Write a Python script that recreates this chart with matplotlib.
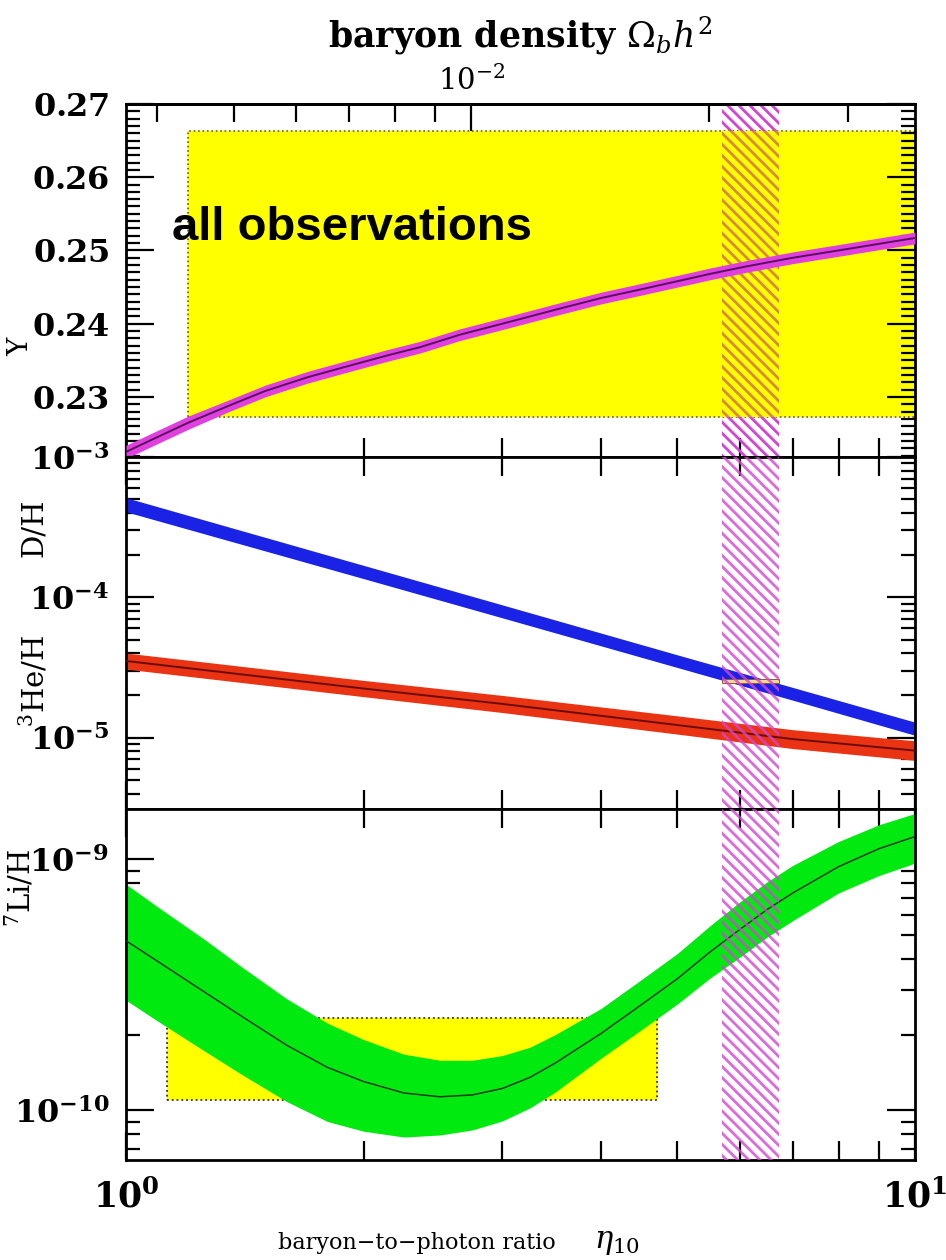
import matplotlib
matplotlib.use('Agg')
import matplotlib.pyplot as plt
from matplotlib.patches import Rectangle
from matplotlib.ticker import FixedLocator, FixedFormatter, NullFormatter, MultipleLocator

plt.rcParams['mathtext.fontset'] = 'dejavuserif'
plt.rcParams['hatch.linewidth'] = 2.0

# ---- data ----
# helium-4 mass fraction Y
eta_y = [1.0, 1.1, 1.2, 1.35, 1.5, 1.7, 1.94, 2.15, 2.36, 2.65, 3.0, 3.5, 4.0, 4.5,
         5.0, 5.5, 6.1, 7.0, 8.0, 9.0, 10.0]
yp_mid = [0.2225, 0.2246, 0.2265, 0.2288, 0.2308, 0.2327, 0.2344, 0.2357, 0.2368, 0.2385,
          0.2400, 0.2419, 0.2435, 0.2447, 0.2458, 0.2468, 0.2478, 0.2490, 0.2500, 0.2509,
          0.2517]
yp_err = [0.0009, 0.0009, 0.0009, 0.0008, 0.0008, 0.0008, 0.0008, 0.0008, 0.0008, 0.0008,
          0.0008, 0.0008, 0.0008, 0.0008, 0.0008, 0.0008, 0.0008, 0.0008, 0.0008, 0.0008,
          0.0008]

# D/H and 3He/H
eta_m = [1.0, 2.0, 3.0, 5.0, 7.0, 10.0]
dh_mid = [4.57e-4, 1.52e-4, 7.94e-5, 3.51e-5, 2.05e-5, 1.16e-5]
dh_hi = [5.13e-4, 1.69e-4, 8.83e-5, 3.89e-5, 2.28e-5, 1.29e-5]
dh_lo = [4.07e-4, 1.36e-4, 7.14e-5, 3.16e-5, 1.85e-5, 1.04e-5]
he3_mid = [3.52e-5, 2.24e-5, 1.74e-5, 1.23e-5, 9.77e-6, 8.09e-6]
he3_hi = [4.01e-5, 2.56e-5, 2.00e-5, 1.43e-5, 1.14e-5, 9.5e-6]
he3_lo = [3.08e-5, 1.96e-5, 1.51e-5, 1.06e-5, 8.36e-6, 6.89e-6]

# 7Li/H
eta_li = [1.0, 1.1, 1.25, 1.4, 1.6, 1.8, 2.0, 2.25, 2.5, 2.75, 3.0, 3.25, 3.5, 4.0,
          4.5, 5.0, 5.5, 6.0, 6.5, 7.0, 8.0, 9.0, 10.0]
li_mid = [4.73e-10, 3.89e-10, 2.99e-10, 2.37e-10, 1.81e-10, 1.48e-10, 1.30e-10, 1.17e-10,
          1.13e-10, 1.15e-10, 1.22e-10, 1.35e-10, 1.54e-10, 2.02e-10, 2.63e-10, 3.34e-10,
          4.27e-10, 5.25e-10, 6.31e-10, 7.33e-10, 9.33e-10, 1.10e-9, 1.23e-9]
li_hi = [7.94e-10, 6.41e-10, 4.85e-10, 3.73e-10, 2.77e-10, 2.22e-10, 1.91e-10, 1.67e-10,
         1.58e-10, 1.58e-10, 1.65e-10, 1.78e-10, 2.00e-10, 2.54e-10, 3.31e-10, 4.21e-10,
         5.43e-10, 6.76e-10, 8.13e-10, 9.44e-10, 1.175e-9, 1.37e-9, 1.52e-9]
li_lo = [2.74e-10, 2.25e-10, 1.74e-10, 1.39e-10, 1.08e-10, 9.01e-11, 8.24e-11, 7.81e-11,
         7.96e-11, 8.34e-11, 9.06e-11, 1.02e-10, 1.18e-10, 1.61e-10, 2.09e-10, 2.65e-10,
         3.36e-10, 4.07e-10, 4.90e-10, 5.69e-10, 7.33e-10, 8.60e-10, 9.64e-10]

# observational boxes
yp_box_eta = [1.198, 10.5]
yp_box_val = [0.2272, 0.2663]
li_box_eta = [1.127, 4.71]
li_box_val = [1.10e-10, 2.32e-10]
dh_obs_eta = [5.69, 6.73]
dh_obs_val = [2.47e-5, 2.61e-5]

# CMB eta band
cmb_eta = [5.69, 6.73]

# top axis (Omega_b h^2)
obh2_major = [0.01]
obh2_minor = [0.004, 0.005, 0.006, 0.007, 0.008, 0.009, 0.02, 0.03]
eta_per_obh2 = 274.0

MAG = '#d444d4'
MAG_A = (0.83, 0.27, 0.83, 0.8)
YEL = '#ffff00'
HATCH = '\\\\\\'

fig = plt.figure(figsize=(9.46, 12.6), dpi=100)
ax1 = fig.add_axes([0.1332, 0.6373, 0.834, 0.2802])
ax2 = fig.add_axes([0.1332, 0.3579, 0.834, 0.2794])
ax3 = fig.add_axes([0.1332, 0.0794, 0.834, 0.2786])

for ax in (ax1, ax2, ax3):
    ax.set_xscale('log')
    ax.set_xlim(1, 10)
    for s in ax.spines.values():
        s.set_linewidth(2.0)
    ax.tick_params(which='both', direction='in', top=True, right=True, width=1.6,
                   labelsize=23, pad=12)
    ax.tick_params(which='major', length=20)
    ax.tick_params(which='minor', length=10)
    ax.tick_params(axis='x', which='minor', length=14)
    ax.xaxis.set_major_locator(FixedLocator([1, 10]))
    ax.xaxis.set_minor_formatter(NullFormatter())
    ax.xaxis.set_major_formatter(NullFormatter())

# ---- top panel: Y ----
ax1.set_ylim(0.2218, 0.27)
ax1.yaxis.set_minor_locator(MultipleLocator(0.001))
ax1.set_yticks([0.23, 0.24, 0.25, 0.26, 0.27])
ax1.set_yticklabels([r'$\mathbf{0.23}$', r'$\mathbf{0.24}$', r'$\mathbf{0.25}$',
                     r'$\mathbf{0.26}$', r'$\mathbf{0.27}$'])
ax1.tick_params(axis='x', which='both', top=False)

ax1.add_patch(Rectangle((yp_box_eta[0], yp_box_val[0]), yp_box_eta[1] - yp_box_eta[0],
                        yp_box_val[1] - yp_box_val[0], facecolor=YEL, edgecolor='#6b5c00',
                        linestyle=':', linewidth=1.2, zorder=1))
# hatched band: magenta on white, orange where it overlays the yellow box
ax1.axvspan(cmb_eta[0], cmb_eta[1], facecolor='none', edgecolor=MAG, hatch=HATCH,
            lw=0, zorder=2)
ax1.add_patch(Rectangle((cmb_eta[0], yp_box_val[0]), cmb_eta[1] - cmb_eta[0],
                        yp_box_val[1] - yp_box_val[0], facecolor=YEL, edgecolor='none',
                        zorder=2.2))
ax1.add_patch(Rectangle((cmb_eta[0], yp_box_val[0]), cmb_eta[1] - cmb_eta[0],
                        yp_box_val[1] - yp_box_val[0], facecolor='none',
                        edgecolor='#d88a3a', hatch=HATCH, lw=0, zorder=2.5))
lo = [m - e for m, e in zip(yp_mid, yp_err)]
hi = [m + e for m, e in zip(yp_mid, yp_err)]
ax1.fill_between(eta_y, lo, hi, color='#e040e0', lw=0, zorder=3)
ax1.plot(eta_y, yp_mid, color='#5a105a', lw=1.4, zorder=3.5)
ax1.text(1.144, 0.2531, 'all observations', fontsize=34, fontweight='bold',
         family='Liberation Sans', va='center', ha='left', zorder=6)

sec = ax1.secondary_xaxis('top', functions=(lambda e: e / eta_per_obh2,
                                            lambda o: o * eta_per_obh2))
sec.xaxis.set_major_locator(FixedLocator(obh2_major))
sec.xaxis.set_minor_locator(FixedLocator(obh2_minor))
sec.xaxis.set_major_formatter(FixedFormatter([r'$10^{-2}$']))
sec.xaxis.set_minor_formatter(NullFormatter())
sec.tick_params(which='both', direction='in', width=1.6, labelsize=21, pad=6)
sec.tick_params(which='major', length=22)
sec.tick_params(which='minor', length=13)
sec.spines['top'].set_linewidth(2.0)

# ---- middle panel: D/H and 3He/H ----
ax2.set_yscale('log')
ax2.set_ylim(3.1e-6, 1e-3)
ax2.yaxis.set_major_locator(FixedLocator([1e-5, 1e-4, 1e-3]))
ax2.yaxis.set_major_formatter(FixedFormatter([r'$\mathbf{10^{-5}}$', r'$\mathbf{10^{-4}}$',
                                              r'$\mathbf{10^{-3}}$']))
ax2.yaxis.set_minor_formatter(NullFormatter())
ax2.fill_between(eta_m, dh_lo, dh_hi, color='#1a22e6', lw=0, zorder=2)
ax2.fill_between(eta_m, he3_lo, he3_hi, color='#ea3312', lw=0, zorder=2)
ax2.plot(eta_m, he3_mid, color='#6a0c06', lw=1.4, zorder=3)
ax2.add_patch(Rectangle((dh_obs_eta[0], dh_obs_val[0]), dh_obs_eta[1] - dh_obs_eta[0],
                        dh_obs_val[1] - dh_obs_val[0], facecolor='#f8d890',
                        edgecolor='#806030', lw=0.7, zorder=3.5))
ax2.axvspan(cmb_eta[0], cmb_eta[1], facecolor='none', edgecolor=MAG_A, hatch=HATCH,
            lw=0, zorder=4)

# ---- bottom panel: 7Li/H ----
ax3.set_yscale('log')
ax3.set_ylim(6.33e-11, 1.585e-9)
ax3.yaxis.set_major_locator(FixedLocator([1e-10, 1e-9]))
ax3.yaxis.set_major_formatter(FixedFormatter([r'$\mathbf{10^{-10}}$', r'$\mathbf{10^{-9}}$']))
ax3.yaxis.set_minor_formatter(NullFormatter())
ax3.add_patch(Rectangle((li_box_eta[0], li_box_val[0]), li_box_eta[1] - li_box_eta[0],
                        li_box_val[1] - li_box_val[0], facecolor=YEL, edgecolor='#3a3000',
                        linestyle=':', linewidth=1.3, zorder=1))
ax3.fill_between(eta_li, li_lo, li_hi, color='#00ea10', lw=0, zorder=2)
ax3.plot(eta_li, li_mid, color='#1a3a1a', lw=1.1, zorder=3)
ax3.axvspan(cmb_eta[0], cmb_eta[1], facecolor='none', edgecolor=MAG_A, hatch=HATCH,
            lw=0, zorder=4)
ax3.xaxis.set_major_formatter(FixedFormatter([r'$\mathbf{10^0}$', r'$\mathbf{10^1}$']))
ax3.tick_params(axis='x', which='major', pad=14, labelsize=25)

# ---- labels ----
fig.text(0.55, 0.972, r'baryon density $\Omega_b h^2$', ha='center', va='center',
         fontsize=25, fontweight='bold', family='DejaVu Serif')
fig.text(0.294, 0.0135, 'baryon\u2212to\u2212photon ratio', ha='left', va='center',
         fontsize=16, family='DejaVu Serif')
fig.text(0.628, 0.0135, r'$\eta_{10}$', ha='left', va='center', fontsize=22)
fig.text(0.022, 0.7246, 'Y', rotation=90, ha='center', va='center', fontsize=20,
         family='DejaVu Serif')
fig.text(0.036, 0.581, 'D/H', rotation=90, ha='center', va='center', fontsize=21,
         family='DejaVu Serif')
fig.text(0.036, 0.460, r'$^{3}$He/H', rotation=90, ha='center', va='center', fontsize=21,
         family='DejaVu Serif')
fig.text(0.021, 0.295, r'$^{7}$Li/H', rotation=90, ha='center', va='center', fontsize=21,
         family='DejaVu Serif')

fig.savefig('out.png', dpi=100)
